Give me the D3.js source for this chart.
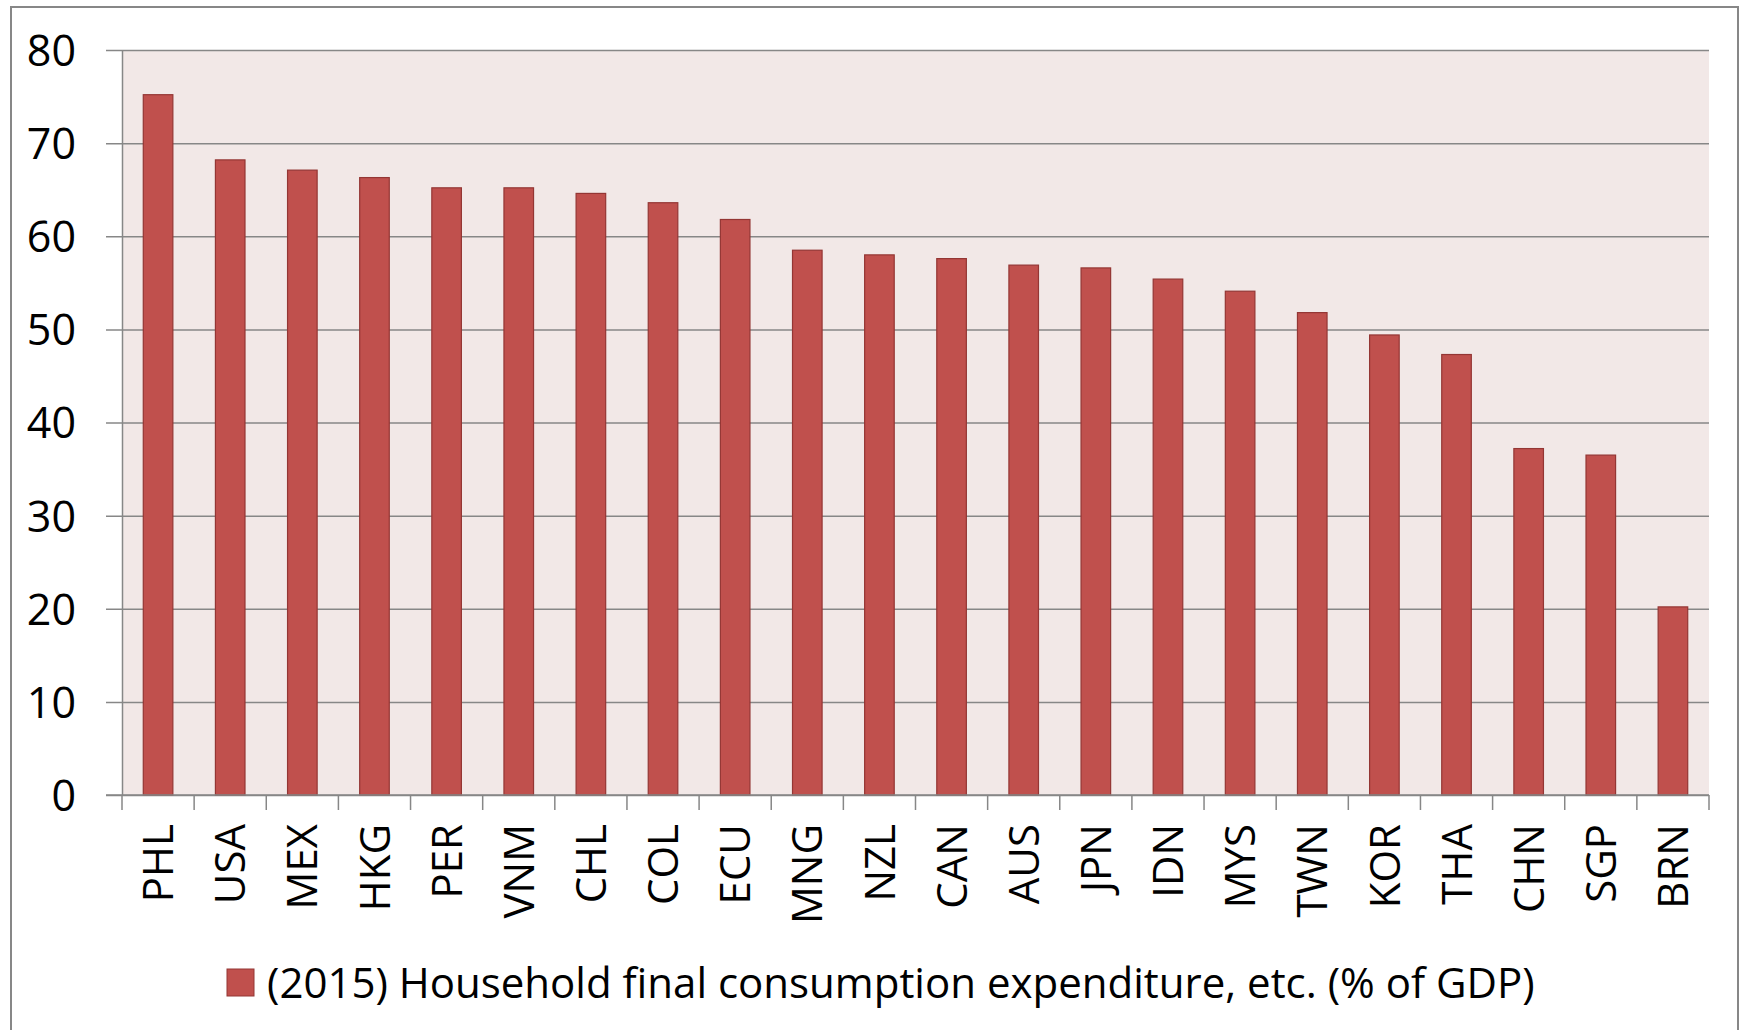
<!DOCTYPE html>
<html>
<head>
<meta charset="utf-8">
<script src="https://cdn.jsdelivr.net/npm/d3@7"></script>
<style>
  body { margin: 0; background: #fff; }
  svg { display: block; font-family: "Open Sans", sans-serif; }
</style>
</head>
<body>
<svg id="chart"></svg>
<script>
// data
var countries = ["PHL", "USA", "MEX", "HKG", "PER", "VNM", "CHL", "COL", "ECU", "MNG", "NZL",
                 "CAN", "AUS", "JPN", "IDN", "MYS", "TWN", "KOR", "THA", "CHN", "SGP", "BRN"];
var values = [75.2, 68.2, 67.1, 66.3, 65.2, 65.2, 64.6, 63.6, 61.8, 58.5, 58.0,
              57.6, 56.9, 56.6, 55.4, 54.1, 51.8, 49.4, 47.3, 37.2, 36.5, 20.2];
var yTicks = [0, 10, 20, 30, 40, 50, 60, 70, 80];
var seriesName = "(2015) Household final consumption expenditure, etc. (% of GDP)";

var width = 1743,
    height = 1030;

var plot = { left: 122, right: 1709, top: 50, bottom: 795 };

var barFill = "#C0504D",
    barStroke = "#943634",
    gridColor = "#878787";

var svg = d3.select("#chart")
    .attr("width", width)
    .attr("height", height);

// outer chart border (bottom edge runs off the picture)
svg.append("rect")
    .attr("x", 11).attr("y", 7)
    .attr("width", 1727).attr("height", 1040)
    .attr("fill", "#fff")
    .attr("stroke", gridColor)
    .attr("stroke-width", 2);

var x = d3.scaleBand()
    .domain(countries)
    .range([plot.left, plot.right])
    .padding(0);

var y = d3.scaleLinear()
    .domain([0, 80])
    .range([plot.bottom, plot.top]);

// plot area background
svg.append("rect")
    .attr("x", plot.left).attr("y", plot.top)
    .attr("width", plot.right - plot.left)
    .attr("height", plot.bottom - plot.top)
    .attr("fill", "#F2E8E7");

// gridlines + y ticks
var yAxis = svg.append("g")
    .attr("transform", "translate(" + plot.left + ",0)")
    .call(d3.axisLeft(y)
      .tickValues(yTicks)
      .tickSize(-(plot.right - plot.left))
      .tickSizeOuter(0)
      .tickPadding(0));

yAxis.select(".domain").attr("stroke", gridColor).attr("stroke-width", 1.5);
yAxis.selectAll(".tick line")
    .attr("x1", -16)
    .attr("stroke", gridColor)
    .attr("stroke-width", 1.5);
yAxis.selectAll(".tick text")
    .attr("x", -46)
    .attr("dy", "0.36em")
    .attr("fill", "#000")
    .style("font-family", "'Open Sans', sans-serif")
    .style("font-size", "43px");

// bars
var barFrac = 0.41;
svg.append("g")
    .selectAll("rect")
    .data(values)
    .enter().append("rect")
      .attr("x", function(d, i) { return x(countries[i]) + x.bandwidth() * (1 - barFrac) / 2; })
      .attr("y", function(d) { return y(d); })
      .attr("width", x.bandwidth() * barFrac)
      .attr("height", function(d) { return y(0) - y(d); })
      .attr("fill", barFill)
      .attr("stroke", barStroke)
      .attr("stroke-width", 1.2);

// x axis: line and tick marks between categories
var xAxis = svg.append("g");
xAxis.append("line")
    .attr("x1", plot.left - 16).attr("x2", plot.right)
    .attr("y1", plot.bottom).attr("y2", plot.bottom)
    .attr("stroke", gridColor)
    .attr("stroke-width", 1.5);

var bounds = countries.map(function(c) { return x(c); }).concat([plot.right]);
xAxis.selectAll("line.tick")
    .data(bounds)
    .enter().append("line")
      .attr("class", "tick")
      .attr("x1", function(d) { return d; })
      .attr("x2", function(d) { return d; })
      .attr("y1", plot.bottom)
      .attr("y2", plot.bottom + 15)
      .attr("stroke", gridColor)
      .attr("stroke-width", 1.5);

xAxis.selectAll("text")
    .data(countries)
    .enter().append("text")
      .attr("transform", function(d) {
        return "translate(" + (x(d) + x.bandwidth() / 2) + "," + 824 + ") rotate(-90)";
      })
      .attr("text-anchor", "end")
      .attr("dy", "0.36em")
      .style("font-size", "42px")
      .text(function(d) { return d; });

// legend
var legend = svg.append("g");
legend.append("rect")
    .attr("x", 227).attr("y", 969)
    .attr("width", 27).attr("height", 27)
    .attr("fill", barFill)
    .attr("stroke", barStroke)
    .attr("stroke-width", 1);
legend.append("text")
    .attr("x", 267).attr("y", 998)
    .style("font-size", "42px")
    .text(seriesName);
</script>
</body>
</html>
